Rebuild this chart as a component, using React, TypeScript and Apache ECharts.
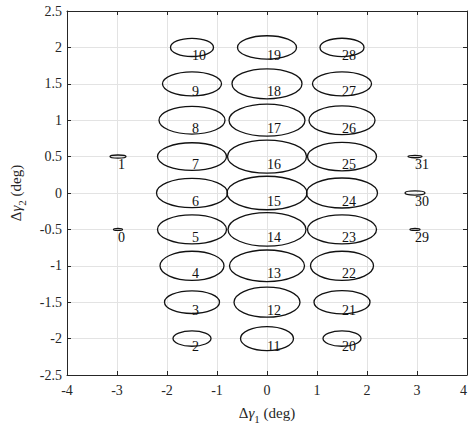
import React, { useEffect, useRef } from "react";
import * as echarts from "echarts";

// Ellipse index labels
const ids = [
  0, 1, 2, 3, 4, 5, 6, 7, 8, 9, 10, 11, 12, 13, 14, 15, 16, 17, 18, 19, 20, 21, 22, 23, 24, 25, 26, 27, 28, 29, 30, 31,
];
// Ellipse centres (deg)
const centerX = [
  -2.98, -2.98,
  -1.5, -1.5, -1.5, -1.5, -1.5, -1.5, -1.5, -1.5, -1.5,
  0, 0, 0, 0, 0, 0, 0, 0, 0,
  1.5, 1.5, 1.5, 1.5, 1.5, 1.5, 1.5, 1.5, 1.5,
  2.96, 2.96, 2.96,
];
const centerY = [
  -0.5, 0.5,
  -2, -1.5, -1, -0.5, 0, 0.5, 1, 1.5, 2,
  -2, -1.5, -1, -0.5, 0, 0.5, 1, 1.5, 2,
  -2, -1.5, -1, -0.5, 0, 0.5, 1, 1.5, 2,
  -0.5, 0, 0.5,
];
// Semi-axes (deg)
const semiA = [
  0.09, 0.16,
  0.38, 0.55, 0.64, 0.69, 0.71, 0.69, 0.66, 0.59, 0.43,
  0.53, 0.66, 0.75, 0.78, 0.8, 0.79, 0.76, 0.7, 0.59,
  0.38, 0.56, 0.63, 0.69, 0.71, 0.69, 0.66, 0.59, 0.44,
  0.1, 0.2, 0.14,
];
const semiB = [
  0.014, 0.022,
  0.105, 0.155, 0.2, 0.2, 0.2, 0.19, 0.19, 0.165, 0.125,
  0.165, 0.206, 0.217, 0.23, 0.23, 0.227, 0.22, 0.206, 0.16,
  0.105, 0.16, 0.2, 0.2, 0.206, 0.195, 0.197, 0.165, 0.126,
  0.014, 0.028, 0.016,
];

const xTicks = { min: -4, max: 4, interval: 1 };
const yTicks = { min: -2.5, max: 2.5, interval: 0.5 };

const FONT = "'Liberation Serif', 'Times New Roman', serif";
const AXIS_COLOR = "#262626";
const GRID_COLOR = "#e3e3e3";

export default function App() {
  const ref = useRef<HTMLDivElement>(null);

  useEffect(() => {
    if (!ref.current) return;
    const chart = echarts.init(ref.current, undefined, { renderer: "svg" });
    const data = ids.map((id, i) => [centerX[i], centerY[i], semiA[i], semiB[i], id]);

    const nameRich = {
      a: { fontFamily: FONT, fontSize: 15, color: AXIS_COLOR, lineHeight: 22, verticalAlign: "middle" },
      g: { fontFamily: FONT, fontSize: 15, fontStyle: "italic", color: AXIS_COLOR, lineHeight: 22, verticalAlign: "middle" },
      s: { fontFamily: FONT, fontSize: 11, color: AXIS_COLOR, lineHeight: 11, verticalAlign: "bottom" },
    };

    const baseAxis = (extra: any) => ({
      type: "value",
      axisLine: { show: true, onZero: false, lineStyle: { color: AXIS_COLOR, width: 1 } },
      axisTick: { show: true, inside: true, length: 4, lineStyle: { color: AXIS_COLOR } },
      ...extra,
    });

    chart.setOption({
      animation: false,
      backgroundColor: "#ffffff",
      grid: { left: 67, right: 1, top: 11, bottom: 55, containLabel: false, outerBoundsMode: "none" },
      xAxis: [
        baseAxis({
          position: "bottom",
          ...xTicks,
          name: "{a|Δ}{g|γ}{s|1}{a| (deg)}",
          nameLocation: "middle",
          nameGap: 27,
          nameTextStyle: { rich: nameRich },
          axisLabel: { fontFamily: FONT, fontSize: 14, color: AXIS_COLOR, margin: 8, alignMaxLabel: "right" },
          splitLine: { show: true, lineStyle: { color: GRID_COLOR, width: 1 } },
        }),
        baseAxis({
          position: "top",
          ...xTicks,
          axisLabel: { show: false },
          splitLine: { show: false },
        }),
      ],
      yAxis: [
        baseAxis({
          position: "left",
          ...yTicks,
          name: "{a|Δ}{g|γ}{s|2}{a| (deg)}",
          nameLocation: "middle",
          nameGap: 40,
          nameRotate: 90,
          nameTextStyle: { rich: nameRich },
          axisLabel: { fontFamily: FONT, fontSize: 14, color: AXIS_COLOR, margin: 5 },
          splitLine: { show: true, lineStyle: { color: GRID_COLOR, width: 1 } },
        }),
        baseAxis({
          position: "right",
          ...yTicks,
          axisLabel: { show: false },
          splitLine: { show: false },
        }),
      ],
      series: [
        {
          type: "custom",
          xAxisIndex: 0,
          yAxisIndex: 0,
          data,
          encode: { x: 0, y: 1 },
          renderItem: (params: any, api: any) => {
            const c = api.coord([api.value(0), api.value(1)]);
            const s = api.size([api.value(2), api.value(3)]);
            return {
              type: "group",
              children: [
                {
                  type: "ellipse",
                  shape: { cx: c[0], cy: c[1], rx: s[0], ry: Math.max(s[1], 0.8) },
                  style: { fill: "none", stroke: "#111111", lineWidth: 1.3 },
                },
                {
                  type: "text",
                  x: c[0],
                  y: c[1] + 8,
                  style: {
                    text: String(api.value(4)),
                    fontFamily: FONT,
                    fontSize: 14,
                    fill: "#111111",
                    align: "left",
                    verticalAlign: "middle",
                  },
                },
              ],
            };
          },
        },
      ],
    });
    return () => chart.dispose();
  }, []);

  return <div ref={ref} style={{ width: 468, height: 430, position: "absolute", left: 0, top: 0 }} />;
}
